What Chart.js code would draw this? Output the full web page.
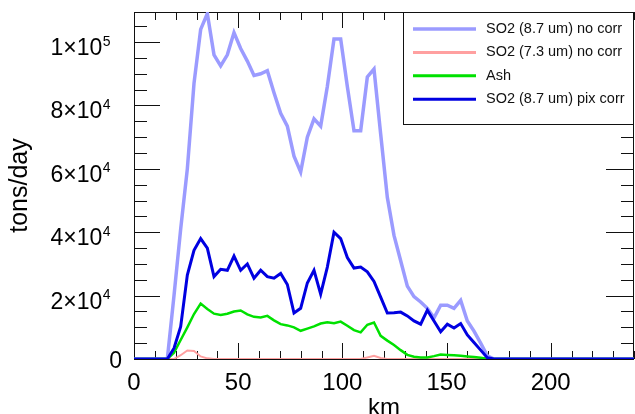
<!DOCTYPE html>
<html>
<head>
<meta charset="utf-8">
<script src="https://cdn.jsdelivr.net/npm/chart.js@4.4.1/dist/chart.umd.min.js"></script>
<style>
  html, body { margin: 0; padding: 0; background: #fff; }
  #wrap { width: 635px; height: 414px; }
</style>
</head>
<body>
<div id="wrap"><canvas id="so2-chart"></canvas></div>
<script>
// distance along the plume (km)
const km = [0, 16.0, 19.2, 22.4, 25.6, 28.8, 32.0, 35.2, 38.4, 41.6, 44.8, 48.0, 51.2, 54.4, 57.6, 60.8,
  64.0, 67.2, 70.4, 73.6, 76.8, 80.0, 83.2, 86.4, 89.6, 92.8, 96.0, 99.2, 102.4, 105.6, 108.8, 112.0,
  115.2, 118.4, 121.6, 124.8, 128.0, 131.2, 134.4, 137.6, 140.8, 144.0, 147.2, 150.4, 153.6, 156.8,
  160.0, 163.2, 166.4, 169.6, 172.8, 240];

// tons/day
const so2NoCorr87 = [0, 0, 20000, 41000, 60000, 87000, 104000, 109000, 96000, 92500, 96000, 103000, 98000,
  94000, 89500, 90000, 91000, 84000, 77500, 73500, 64000, 59000, 70000, 75800, 73500, 86000, 101000,
  101000, 86000, 72000, 72000, 89000, 91500, 71000, 51000, 39000, 31000, 23000, 19700, 18000, 16000,
  13000, 17000, 17000, 16000, 18500, 12000, 8800, 5000, 1000, 0, 0];
const so2NoCorr73 = [0, 0, 0, 1200, 2700, 2500, 800, 200, 0, 0, 0, 0, 0, 0, 0, 0, 0, 0, 0, 0, 0, 0, 0, 0,
  0, 0, 0, 0, 0, 0, 0, 500, 1000, 300, 0, 0, 0, 0, 0, 0, 0, 0, 0, 0, 0, 0, 0, 0, 0, 0, 0, 0];
const ash = [0, 0, 2000, 6000, 10000, 14200, 17500, 15800, 14300, 13900, 14300, 15000, 15300, 14100, 13300,
  13100, 13600, 12200, 11000, 10600, 10000, 8900, 9600, 10300, 11200, 11600, 11300, 11800, 10500, 9100,
  8400, 10800, 11500, 7300, 5800, 4400, 2800, 1300, 700, 500, 500, 900, 1400, 1300, 1200, 1000, 800, 600,
  400, 100, 0, 0];
const so2PixCorr87 = [0, 0, 3400, 10200, 26500, 34300, 38000, 35000, 26000, 28300, 28000, 32500, 28000, 30000,
  25500, 28000, 26000, 25500, 27000, 23500, 14500, 16000, 24000, 28000, 20500, 29000, 40000, 38000, 32000,
  28700, 29000, 27500, 24500, 19500, 14500, 14600, 14800, 13600, 12000, 11000, 15400, 12000, 8600, 11000,
  9800, 11200, 7600, 5200, 2800, 400, 0, 0];

const seriesLabels = ['SO2 (8.7 um) no corr', 'SO2 (7.3 um) no corr', 'Ash', 'SO2 (8.7 um) pix corr'];
const xTickValues = [0, 50, 100, 150, 200];
const yTickValues = [0, 20000, 40000, 60000, 80000, 100000];
const yTickMantissa = ['0', '2×10', '4×10', '6×10', '8×10', '1×10'];
const yTickExponent = ['', '4', '4', '4', '4', '5'];

const xMax = 240, xMajor = 50, xMinor = 10;
const yMax = 109500, yMajor = 20000, yMinor = 5000;
const fontFamily = '"Liberation Sans", Arial, sans-serif';

function toPoints(values) {
  return values.map((v, i) => ({x: km[i], y: v}));
}

// box ticks on all four sides, pointing inwards
const frameTicks = {
  id: 'frameTicks',
  beforeDatasetsDraw(chart) {
    const {ctx, chartArea: a, scales: {x, y}} = chart;
    ctx.save();
    ctx.strokeStyle = '#111';
    ctx.lineWidth = 1;
    ctx.strokeRect(a.left + 0.5, a.top + 0.5, a.right - a.left - 1, a.bottom - a.top);
    ctx.beginPath();
    for (let v = 0; v <= xMax; v += xMinor) {
      const px = Math.round(x.getPixelForValue(v)) + 0.5;
      const len = v % xMajor === 0 ? 16 : 8;
      ctx.moveTo(px, a.bottom); ctx.lineTo(px, a.bottom - len);
      ctx.moveTo(px, a.top); ctx.lineTo(px, a.top + len);
    }
    for (let v = 0; v <= yMax; v += yMinor) {
      const py = Math.round(y.getPixelForValue(v)) + 0.5;
      const major = v % yMajor === 0;
      ctx.moveTo(a.left, py); ctx.lineTo(a.left + (major ? 26 : 13), py);
      ctx.moveTo(a.right, py); ctx.lineTo(a.right - (major ? 28 : 13), py);
    }
    ctx.stroke();

    // y tick labels with raised exponent
    ctx.fillStyle = '#000';
    ctx.textBaseline = 'alphabetic';
    ctx.textAlign = 'left';
    yTickValues.forEach((v, i) => {
      const py = y.getPixelForValue(v);
      const base = yTickMantissa[i], exp = yTickExponent[i];
      if (!exp) {
        ctx.font = '23px ' + fontFamily;
        ctx.fillText(base, 122 - ctx.measureText(base).width, py + 9);
        return;
      }
      ctx.font = '14px ' + fontFamily;
      const expW = ctx.measureText(exp).width;
      const expX = 110.5 - expW;
      ctx.fillText(exp, expX, py + 3.5);
      ctx.font = '23px ' + fontFamily;
      ctx.fillText(base, expX - 0.5 - ctx.measureText(base).width, py + 13);
    });
    ctx.restore();
  }
};

// legend box in the top right corner of the plot
const boxLegend = {
  id: 'boxLegend',
  afterDatasetsDraw(chart) {
    const {ctx, chartArea: a} = chart;
    const left = 403, top = a.top, bottom = a.top + 112;
    ctx.save();
    ctx.fillStyle = '#fff';
    ctx.fillRect(left, top, a.right - left, bottom - top);
    ctx.strokeStyle = '#111';
    ctx.lineWidth = 1;
    ctx.strokeRect(left + 0.5, top + 0.5, a.right - left - 1, bottom - top);
    ctx.font = '14.5px ' + fontFamily;
    ctx.textBaseline = 'middle';
    ctx.fillStyle = '#111';
    chart.data.datasets.forEach((ds, i) => {
      const yy = top + 17 + i * 23.4;
      ctx.strokeStyle = ds.borderColor;
      ctx.lineWidth = i === 0 ? 3.5 : 3;
      ctx.beginPath();
      ctx.moveTo(413, yy); ctx.lineTo(476, yy);
      ctx.stroke();
      ctx.fillText(ds.label, 486, yy);
    });
    ctx.restore();
  }
};

const ctx = document.getElementById('so2-chart').getContext('2d');
const myChart = new Chart(ctx, {
  type: 'line',
  data: {
    datasets: [{
      label: seriesLabels[0],
      data: toPoints(so2NoCorr87),
      borderColor: 'rgb(155, 155, 255)',
      borderWidth: 3.5,
      order: 3
    }, {
      label: seriesLabels[1],
      data: toPoints(so2NoCorr73),
      borderColor: 'rgb(255, 160, 160)',
      borderWidth: 2,
      order: 2
    }, {
      label: seriesLabels[2],
      data: toPoints(ash),
      borderColor: 'rgb(0, 225, 0)',
      borderWidth: 2.5,
      order: 1
    }, {
      label: seriesLabels[3],
      data: toPoints(so2PixCorr87),
      borderColor: 'rgb(0, 0, 225)',
      borderWidth: 3,
      order: 0
    }]
  },
  options: {
    responsive: true,
    maintainAspectRatio: false,
    animation: false,
    layout: { padding: { top: 12, right: 1, left: 0, bottom: 0 } },
    elements: {
      point: { radius: 0 },
      line: { tension: 0, fill: false }
    },
    plugins: {
      legend: { display: false },
      tooltip: { enabled: false }
    },
    scales: {
      x: {
        type: 'linear',
        min: 0,
        max: xMax,
        grid: { display: false, drawTicks: false },
        border: { display: false },
        afterBuildTicks(scale) { scale.ticks = xTickValues.map(v => ({value: v})); },
        ticks: {
          padding: 10,
          color: '#000',
          maxRotation: 0,
          autoSkip: false,
          font: { family: fontFamily, size: 24 }
        },
        title: {
          display: true,
          text: 'km',
          color: '#000',
          padding: { top: 0, bottom: -6 },
          font: { family: fontFamily, size: 24, lineHeight: 1 }
        },
        afterFit(scale) {
          scale.height = 55;
          scale.paddingLeft = 0;
          scale.paddingRight = 0;
        }
      },
      y: {
        min: 0,
        max: yMax,
        grid: { display: false, drawTicks: false },
        border: { display: false },
        afterBuildTicks(scale) { scale.ticks = yTickValues.map(v => ({value: v})); },
        ticks: { display: false },
        title: {
          display: true,
          text: 'tons/day',
          color: '#000',
          padding: { top: 8, bottom: 0 },
          font: { family: fontFamily, size: 25, lineHeight: 1 }
        },
        afterFit(scale) {
          scale.width = 134;
          scale.paddingTop = 0;
          scale.paddingBottom = 0;
        }
      }
    }
  },
  plugins: [frameTicks, boxLegend]
});
</script>
</body>
</html>
